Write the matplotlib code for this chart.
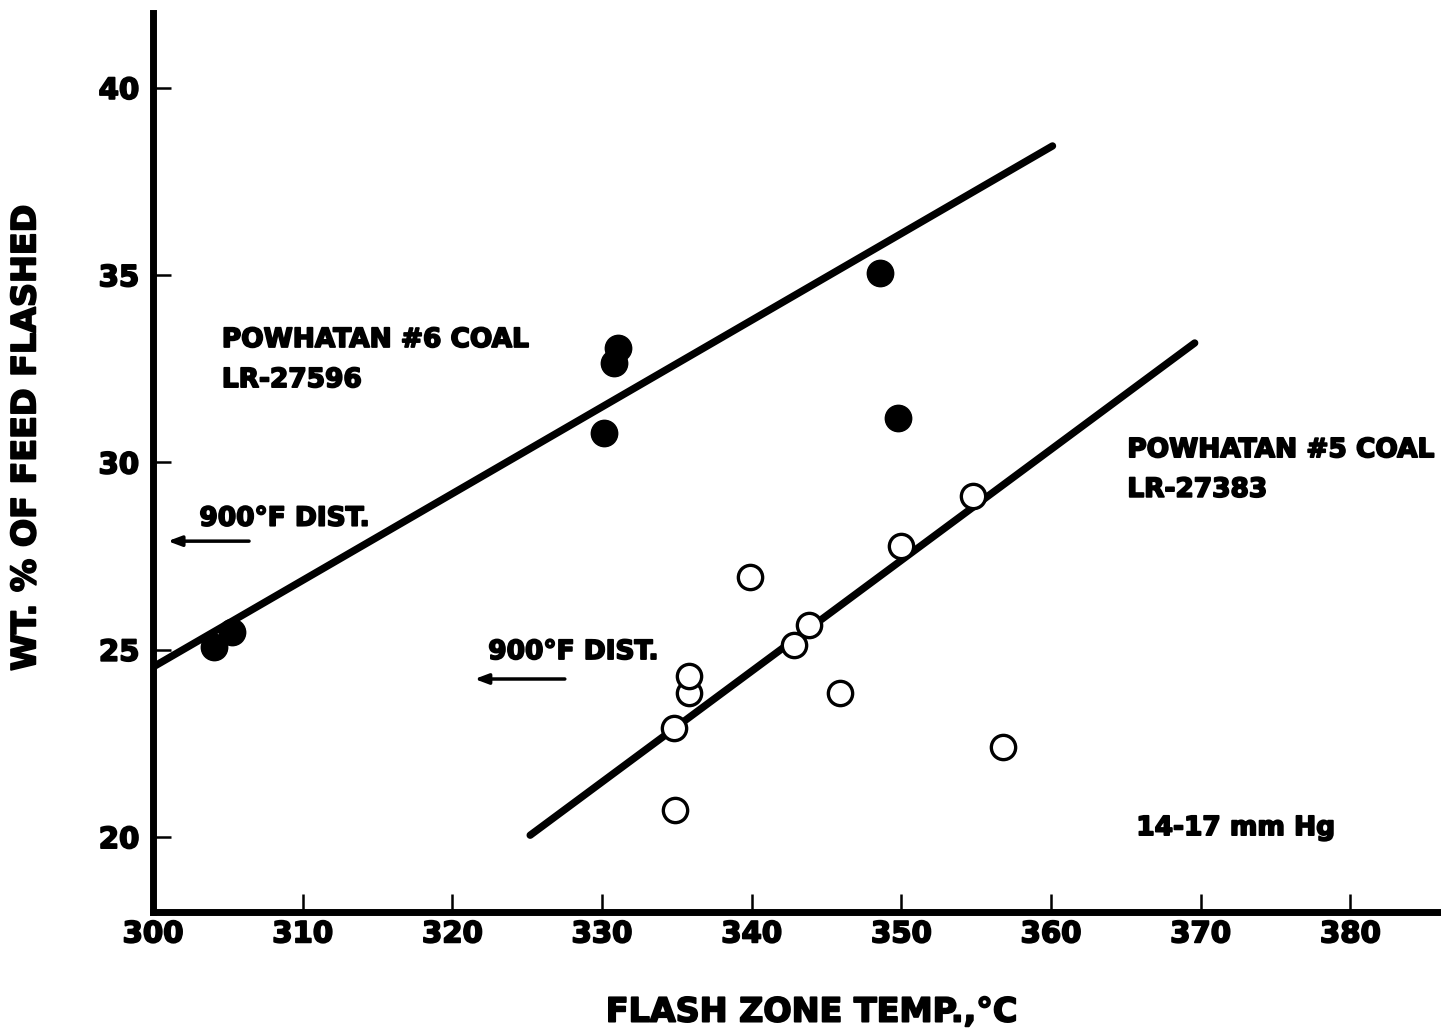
import matplotlib
matplotlib.use("Agg")
import matplotlib.pyplot as plt
import matplotlib.patheffects as pe

# Powhatan #6 coal (LR-27596), filled points
coal6_temp = [304.1, 305.3, 330.1, 330.8, 331.1, 348.6, 349.8]
coal6_wt = [25.07, 25.47, 30.80, 32.66, 33.06, 35.06, 31.20]

# Powhatan #5 coal (LR-27383), open points
coal5_temp = [334.9, 334.8, 335.8, 335.8, 339.9, 342.8, 343.8, 345.9, 350.0, 354.8, 356.8]
coal5_wt = [20.72, 22.90, 23.85, 24.30, 26.94, 25.13, 25.65, 23.85, 27.77, 29.10, 22.40]

# fitted lines (end points)
fit6_temp = [300.0, 360.1]
fit6_wt = [24.54, 38.45]
fit5_temp = [325.2, 369.6]
fit5_wt = [20.05, 33.19]

x_ticks = [300, 310, 320, 330, 340, 350, 360, 370, 380]
y_ticks = [20, 25, 30, 35, 40]

plt.rcParams['font.family'] = ['DejaVu Sans']
plt.rcParams['font.weight'] = 'bold'

# thicken the bold lettering a little
heavy = [pe.withStroke(linewidth=1.3, foreground='black')]

fig = plt.figure(figsize=(14.41, 10.29), dpi=100)
ax = fig.add_axes([0.1062, 0.1137, 0.8932, 0.8737])

ax.plot(fit6_temp, fit6_wt, color='black', lw=5.3, solid_capstyle='round')
ax.plot(fit5_temp, fit5_wt, color='black', lw=5.3, solid_capstyle='round')

ax.plot(coal6_temp, coal6_wt, 'o', color='black', ms=19, zorder=3)
ax.plot(coal5_temp, coal5_wt, 'o', mfc='white', mec='black', mew=2.4, ms=17.5, zorder=3)

ax.set_xlim(300, 386)
ax.set_ylim(18, 42)
ax.set_xticks(x_ticks)
ax.set_yticks(y_ticks)
ax.tick_params(direction='in', length=13, width=1.8, labelsize=21)
ax.tick_params(axis='y', pad=10)
ax.tick_params(axis='x', pad=6)
for lbl in ax.get_xticklabels() + ax.get_yticklabels():
    lbl.set_path_effects(heavy)

for side in ['top', 'right']:
    ax.spines[side].set_visible(False)
for side in ['left', 'bottom']:
    ax.spines[side].set_linewidth(5)

ax.set_xlabel("FLASH ZONE TEMP.,°C", fontsize=24, fontweight='bold', path_effects=heavy)
ax.set_ylabel("WT. % OF FEED FLASHED", fontsize=24, fontweight='bold', path_effects=heavy)
ax.xaxis.set_label_coords(0.512, -0.093)
ax.yaxis.set_label_coords(-0.086, 0.528)

# annotations
txt = dict(fontsize=19, fontweight='bold', ha='left', va='center', path_effects=heavy)
ax.text(304.6, 33.27, "POWHATAN #6 COAL", **txt)
ax.text(304.6, 32.20, "LR-27596", **txt)
ax.text(365.1, 30.33, "POWHATAN #5 COAL", **txt)
ax.text(365.1, 29.27, "LR-27383", **txt)
ax.text(303.1, 28.50, "900°F DIST.", **txt)
ax.text(322.4, 24.94, "900°F DIST.", **txt)
ax.text(365.7, 20.24, "14-17 mm Hg", **txt)

arrow = dict(arrowstyle='-|>,head_length=0.8,head_width=0.3', color='black', lw=2.5)
ax.annotate("", xy=(300.8, 27.9), xytext=(306.6, 27.9), arrowprops=arrow)
ax.annotate("", xy=(321.3, 24.22), xytext=(327.7, 24.22), arrowprops=arrow)

fig.savefig("out.png", dpi=100)
